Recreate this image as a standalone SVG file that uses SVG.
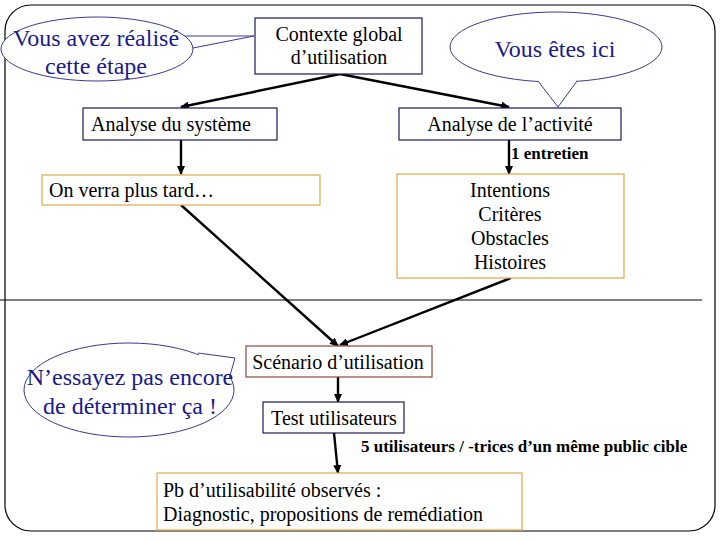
<svg xmlns="http://www.w3.org/2000/svg" width="720" height="540" viewBox="0 0 720 540">
<style>
text{font-family:'Liberation Serif','DejaVu Serif',serif}
.t{font-size:20px;fill:#000}
.c{font-size:24px;fill:#1a1a8c}
.s{font-size:17px;font-weight:bold;fill:#000}
.bn{fill:#fff;stroke:#1c1c5a;stroke-width:1.2}
.bo{fill:#fff;stroke:#e0a84c;stroke-width:1.2}
.bb{fill:#fff;stroke:#8a4a40;stroke-width:1.2}
.cal{fill:#fff;stroke:#3a3a8c;stroke-width:1}
.e{stroke:#000;stroke-width:2.4;fill:none;marker-end:url(#ah)}
</style>
<defs>
<marker id="ah" markerWidth="10" markerHeight="8" refX="8" refY="4" orient="auto" markerUnits="userSpaceOnUse">
<path d="M0,0 L9,4 L0,8 z" fill="#000"/>
</marker>
</defs>
<rect width="720" height="540" fill="#fff"/>
<rect id="frame" x="5" y="5" width="710" height="526" rx="26" ry="26" fill="none" stroke="#000" stroke-width="1.2"/>
<line x1="0" y1="300" x2="702" y2="300" stroke="#000" stroke-width="1.2"/>

<g id="connectors">
<line class="e" x1="340" y1="74" x2="181" y2="107"/>
<line class="e" x1="340" y1="74" x2="509" y2="107"/>
<line class="e" x1="181" y1="140" x2="181" y2="174"/>
<line class="e" x1="509" y1="140" x2="509" y2="174"/>
<line class="e" x1="181" y1="205" x2="338" y2="346"/>
<line class="e" x1="511" y1="278" x2="340" y2="345"/>
<line class="e" x1="338" y1="377" x2="338" y2="402"/>
<line class="e" x1="334" y1="433" x2="338" y2="473"/>
</g>

<g id="callout-realise">
<path class="cal" d="M182,36 L254,36 L193,48"/>
<ellipse class="cal" cx="97" cy="49" rx="96" ry="32"/>
<path d="M182,37 L190,47" stroke="#fff" stroke-width="3"/>
<text class="c" x="96" y="46" text-anchor="middle">Vous avez réalisé</text>
<text class="c" x="96" y="74" text-anchor="middle">cette étape</text>
</g>

<g id="contexte">
<rect class="bn" x="255" y="18" width="167" height="56"/>
<text class="t" x="339" y="41" text-anchor="middle">Contexte global</text>
<text class="t" x="339" y="64" text-anchor="middle">d’utilisation</text>
</g>

<g id="callout-ici">
<ellipse class="cal" cx="556" cy="47" rx="106" ry="35"/>
<path class="cal" d="M538,81 L558,107 L577,81"/>
<path d="M540,80 L575,80" stroke="#fff" stroke-width="3"/>
<text class="c" x="555" y="57" text-anchor="middle">Vous êtes ici</text>
</g>

<g id="analyse-systeme">
<rect class="bn" x="83" y="108" width="194" height="32"/>
<text class="t" x="91" y="131">Analyse du système</text>
</g>

<g id="analyse-activite">
<rect class="bn" x="399" y="108" width="222" height="32"/>
<text class="t" x="510" y="131" text-anchor="middle">Analyse de l’activité</text>
</g>

<text class="s" x="511" y="159">1 entretien</text>

<g id="plus-tard">
<rect class="bo" x="42" y="175" width="278" height="30"/>
<text class="t" x="49" y="197">On verra plus tard…</text>
</g>

<g id="intentions">
<rect class="bo" x="397" y="174" width="227" height="104"/>
<text class="t" x="510" y="197" text-anchor="middle">Intentions</text>
<text class="t" x="510" y="221" text-anchor="middle">Critères</text>
<text class="t" x="510" y="245" text-anchor="middle">Obstacles</text>
<text class="t" x="510" y="269" text-anchor="middle">Histoires</text>
</g>

<g id="callout-essayez">
<ellipse class="cal" cx="129" cy="390" rx="105" ry="47"/>
<path class="cal" d="M198,353 L235,358 L229,379"/>
<path d="M199,355 L227,377" stroke="#fff" stroke-width="4"/>
<text class="c" x="130" y="385" text-anchor="middle">N’essayez pas encore</text>
<text class="c" x="130" y="414" text-anchor="middle">de déterminer ça !</text>
</g>

<g id="scenario">
<rect class="bb" x="246" y="346" width="186" height="31"/>
<text class="t" x="338" y="369" text-anchor="middle">Scénario d’utilisation</text>
</g>

<g id="test">
<rect class="bn" x="263" y="402" width="141" height="31"/>
<text class="t" x="334" y="425" text-anchor="middle">Test utilisateurs</text>
</g>

<text class="s" x="361" y="452">5 utilisateurs / -trices d’un même public cible</text>

<g id="pb">
<rect class="bo" x="157" y="473" width="365" height="57"/>
<text class="t" x="163" y="497">Pb d’utilisabilité observés :</text>
<text class="t" x="163" y="521">Diagnostic, propositions de remédiation</text>
</g>
</svg>
